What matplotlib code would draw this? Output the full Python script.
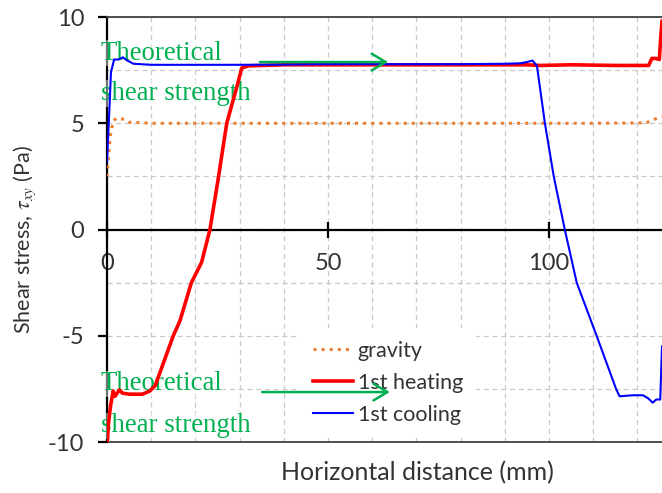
import numpy as np
import matplotlib
matplotlib.use("Agg")
import matplotlib.pyplot as plt
from matplotlib.ticker import MultipleLocator

plt.rcParams['font.family'] = ['Lato', 'DejaVu Sans']
plt.rcParams['mathtext.fontset'] = 'stix'
plt.rcParams['axes.unicode_minus'] = False

# data
gravity_x = [0, 0.4, 0.8, 1.4, 2.2, 3.5, 5, 10, 30, 50, 70, 90, 110, 122, 123.5, 124.6, 125.6]
gravity_y = [2.5, 3.6, 4.5, 5.1, 5.25, 5.2, 5.05, 5.0, 5.0, 5.0, 5.0, 5.0, 5.0, 5.02, 5.15, 5.25, 5.3]

heating_x = [0, 0.3, 0.8, 1.4, 1.8, 2.8, 3.5, 5, 8, 9.7, 10.9, 13, 15, 16.5, 19.1, 21.4, 23.3,
             25.1, 27.1, 29.5, 30.5, 32, 40, 60, 80, 95, 98, 105, 115, 122.6, 123.3, 124.2,
             125.0, 125.3, 125.6]
heating_y = [-10.3, -9.2, -8.3, -7.6, -7.85, -7.55, -7.7, -7.75, -7.75, -7.6, -7.35, -6.15, -5.0,
             -4.3, -2.5, -1.55, 0, 2.3, 5.0, 6.8, 7.6, 7.7, 7.75, 7.75, 7.75, 7.75, 7.72, 7.75,
             7.72, 7.72, 8.05, 8.05, 8.0, 9.0, 9.8]

cooling_x = [0, 0.4, 0.9, 1.6, 2.6, 3.6, 4.6, 6, 10, 20, 30, 40, 50, 60, 70, 80, 90, 93.5, 95,
             96.3, 97.3, 99.1, 101.1, 103.6, 106.3, 110.8, 115.2, 116, 119, 121.3, 122.5,
             123.5, 124.3, 125.2, 125.6]
cooling_y = [3.2, 5.0, 7.4, 8.0, 8.0, 8.1, 7.95, 7.8, 7.75, 7.75, 7.75, 7.76, 7.78, 7.78, 7.78,
             7.78, 7.8, 7.82, 7.88, 7.95, 7.7, 5.0, 2.5, 0, -2.5, -5.0, -7.5, -7.85, -7.8, -7.8,
             -7.95, -8.15, -8.0, -8.0, -5.5]

series_labels = ['gravity', '1st heating', '1st cooling']
x_ticks = [0, 50, 100]
y_ticks = [-10, -5, 0, 5, 10]
note_text = ['Theoretical', 'shear strength']

green = '#00B050'
txt = '#333333'

fig = plt.figure(figsize=(6.62, 4.93), dpi=100)
ax = fig.add_axes([107/662, 1 - 442/493, 1 - 107/662, (442 - 17)/493])

ax.plot(gravity_x, gravity_y, ':', color='#ED7D31', lw=2.2, label=series_labels[0], zorder=4)
ax.plot(heating_x, heating_y, '-', color='#FF0000', lw=2.6, label=series_labels[1], zorder=4)
ax.plot(cooling_x, cooling_y, '-', color='#0000FF', lw=1.5, label=series_labels[2], zorder=4)

ax.set_xlim(0, 125.6)
ax.set_ylim(-10, 10)
ax.set_xticks(x_ticks)
ax.set_yticks(y_ticks)
ax.xaxis.set_minor_locator(MultipleLocator(10))
ax.yaxis.set_minor_locator(MultipleLocator(2.5))
ax.set_axisbelow(True)
ax.grid(True, which='both', ls=(0, (4, 3)), color='#C8C8C8', lw=0.9)
ax.tick_params(which='minor', length=0)
ax.tick_params(axis='x', which='major', direction='inout', length=12, width=1.6,
               pad=11, labelsize=17, labelcolor=txt)
ax.tick_params(axis='y', which='major', direction='out', length=6.5, width=1.6,
               pad=10, labelsize=17, labelcolor=txt)

ax.spines['bottom'].set_position(('data', 0))
ax.spines['bottom'].set_linewidth(1.6)
ax.spines['left'].set_linewidth(1.6)
ax.spines['top'].set_linewidth(1.3)
ax.spines['top'].set_color('#404040')
ax.spines['right'].set_visible(False)
ax.axhline(-10, color='#404040', lw=1.3, clip_on=False, zorder=2.5)

ax.set_xlabel('Horizontal distance (mm)', fontsize=18, color=txt)
ax.xaxis.set_label_coords(0.5586, -0.045)
ax.set_ylabel(r'Shear stress, $\tau_{xy}$ (Pa)', fontsize=15.5, color=txt)
ax.yaxis.set_label_coords(-0.125, 0.476)

leg = ax.legend(loc='upper left', bbox_to_anchor=(0.3477, 0.268), borderaxespad=0,
                fontsize=15.5, frameon=True, fancybox=False, framealpha=1,
                handlelength=1.86, handletextpad=0.22, labelspacing=0.55, borderpad=0.6)
leg.get_frame().set_edgecolor('none')
leg.get_frame().set_facecolor('white')
for t in leg.get_texts():
    t.set_color(txt)
leg.set_zorder(5)

# green notes
for ybase in [(8.0, 6.1), (-7.57, -9.55)]:
    for s, yb in zip(note_text, ybase):
        ax.text(-1.36, yb, s, family='Liberation Serif', fontsize=19.3, color=green,
                va='baseline', ha='left', clip_on=False, zorder=2.7,
                bbox=dict(facecolor='white', edgecolor='none', alpha=0.45, pad=0.5))

for ya, x0, x1 in [(7.88, 34.6, 63.6), (-7.65, 35.1, 64.0)]:
    ax.annotate('', xy=(x1, ya), xytext=(x0, ya), zorder=6,
                arrowprops=dict(arrowstyle='->,head_length=0.5,head_width=0.3', color=green,
                                lw=1.8, mutation_scale=20, shrinkA=0, shrinkB=0))

fig.savefig('out.png', dpi=100)
